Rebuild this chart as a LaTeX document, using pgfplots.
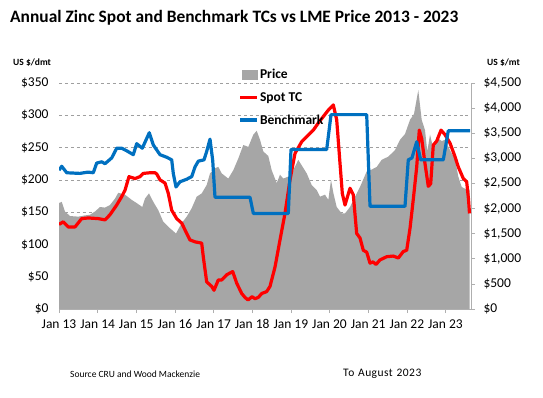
\documentclass[border=0pt]{standalone}
\usepackage{pgfplots}
\pgfplotsset{compat=1.18}
\usepackage{pgfplotstable}
\usepackage{fontspec}
\setmainfont{Carlito}
\definecolor{priceg}{RGB}{166,166,166}
\definecolor{tcred}{RGB}{255,0,0}
\definecolor{bmblue}{RGB}{0,112,192}
\definecolor{axg}{RGB}{175,175,175}

% LME zinc price, US$/t
\pgfplotstableread{
x y
2013.000 2109
2013.070 2134
2013.155 1941
2013.285 1851
2013.500 1839
2013.673 1864
2013.802 1877
2013.931 1941
2014.061 2031
2014.190 2019
2014.319 2070
2014.449 2199
2014.534 2314
2014.708 2276
2014.881 2173
2015.010 2109
2015.155 2031
2015.225 2199
2015.328 2301
2015.440 2134
2015.569 1967
2015.699 1736
2015.872 1607
2016.027 1504
2016.175 1710
2016.304 1839
2016.433 2006
2016.563 2237
2016.692 2301
2016.821 2469
2016.907 2700
2017.036 2803
2017.122 2829
2017.210 2700
2017.380 2597
2017.510 2764
2017.639 2996
2017.768 3266
2017.898 3227
2018.027 3471
2018.115 3549
2018.201 3369
2018.286 3137
2018.415 3047
2018.503 2764
2018.633 2507
2018.718 2674
2018.803 2597
2018.933 2636
2019.062 2764
2019.191 2970
2019.409 2700
2019.538 2469
2019.668 2366
2019.753 2237
2019.882 2276
2019.968 2173
2020.038 2571
2020.097 2314
2020.185 2031
2020.314 1903
2020.400 1903
2020.529 2031
2020.788 2430
2020.961 2739
2021.091 2777
2021.220 2829
2021.349 2970
2021.520 3034
2021.693 3163
2021.823 3369
2021.952 3484
2022.082 3767
2022.185 3883
2022.296 4358
2022.384 3767
2022.470 3561
2022.529 3137
2022.599 3471
2022.684 3201
2022.772 3420
2022.902 3343
2022.987 3369
2023.116 3163
2023.246 2983
2023.331 2636
2023.419 2430
2023.548 2379
2023.621 2379
}\pricetab

% Spot TC, US$/dmt
\pgfplotstableread{
x y
2013.000 131
2013.111 135
2013.241 127
2013.414 127
2013.587 140
2013.758 141
2014.017 140
2014.190 138
2014.319 146
2014.493 161
2014.622 174
2014.708 184
2014.811 205
2014.966 202
2015.096 205
2015.181 210
2015.354 211
2015.484 211
2015.530 209
2015.613 200
2015.743 195
2015.828 179
2015.916 153
2016.045 140
2016.175 133
2016.304 117
2016.389 107
2016.519 104
2016.692 102
2016.733 81
2016.821 42
2016.951 35
2017.010 29
2017.122 45
2017.210 45
2017.339 53
2017.494 58
2017.598 40
2017.727 24
2017.812 18
2017.890 14
2017.994 19
2018.071 16
2018.157 18
2018.245 24
2018.374 27
2018.459 35
2018.589 65
2018.718 107
2018.847 148
2018.977 200
2019.106 241
2019.279 259
2019.409 267
2019.580 277
2019.709 288
2019.838 298
2019.968 308
2020.097 316
2020.185 293
2020.270 226
2020.330 179
2020.400 161
2020.529 187
2020.614 177
2020.702 117
2020.788 110
2020.873 91
2020.961 88
2021.047 71
2021.124 73
2021.202 69
2021.305 76
2021.479 81
2021.649 82
2021.779 79
2021.908 89
2021.996 91
2022.082 125
2022.167 170
2022.255 220
2022.322 277
2022.384 264
2022.470 225
2022.555 190
2022.617 194
2022.684 254
2022.772 260
2022.884 277
2022.987 270
2023.116 257
2023.246 236
2023.331 220
2023.461 202
2023.548 197
2023.595 170
2023.621 148
}\spottab

% Benchmark TC, US$/dmt
\pgfplotstableread{
x y
2013.000 215
2013.070 221
2013.200 211
2013.540 210
2013.750 212
2013.887 211
2013.975 226
2014.105 228
2014.190 225
2014.364 234
2014.493 249
2014.622 249
2014.752 245
2014.922 239
2015.010 256
2015.155 249
2015.336 273
2015.440 254
2015.613 239
2015.787 235
2015.916 231
2015.957 210
2016.027 189
2016.131 197
2016.304 201
2016.433 205
2016.519 220
2016.604 229
2016.752 231
2016.821 244
2016.907 263
2016.977 230
2017.036 173
2017.942 173
2018.028 148
2018.933 148
2019.003 247
2019.926 247
2020.038 301
2020.961 301
2021.047 159
2021.952 159
2022.037 231
2022.133 234
2022.255 259
2022.358 231
2022.943 231
2023.072 276
2023.634 276
}\benchtab

\pgfplotsset{
  base/.style={
    at={(59bp,88bp)}, anchor=south west, scale only axis,
    width=412bp, height=226bp,
    xmin=2013, xmax=2023.66,
    /pgf/number format/assume math mode=true,
    tick label style={font=\fontsize{13.5bp}{15bp}\selectfont},
  }
}

\begin{document}
\begin{tikzpicture}[x=1bp,y=1bp]
\path[use as bounding box] (0,0) rectangle (543,397);

% left scale: grid + labels
\begin{axis}[base,
  ymin=0, ymax=350, ytick={0,50,...,350},
  axis x line=none, axis y line*=left,
  y axis line style={draw=none}, ytick style={draw=none},
  ymajorgrids, major grid style={dashed, draw=gray!75, line width=0.6bp},
  yticklabel={\$\pgfmathprintnumber{\tick}},
  yticklabel style={xshift=-7bp},
]
\end{axis}

% right scale: price area
\begin{axis}[base,
  ymin=0, ymax=4500, ytick={0,500,...,4500},
  axis x line=none, axis y line*=right,
  y axis line style={draw=axg, line width=0.8bp},
  ytick style={draw=axg, line width=0.6bp},
  tick align=outside, major tick length=4bp,
  yticklabel={\$\pgfmathprintnumber[fixed, 1000 sep={,}]{\tick}},
  yticklabel style={xshift=5bp},
]
\addplot[fill=priceg, draw=none] table[x=x,y=y] {\pricetab} \closedcycle;
\end{axis}

% left scale: TC lines, x axis, legend
\begin{axis}[base,
  ymin=0, ymax=350,
  axis y line=none, axis x line*=bottom,
  x axis line style={draw=axg, line width=0.8bp},
  xtick style={draw=axg, line width=0.6bp},
  tick align=outside, major tick length=4bp,
  xtick={2013,2014,...,2023},
  xticklabels={Jan 13,Jan 14,Jan 15,Jan 16,Jan 17,Jan 18,Jan 19,Jan 20,Jan 21,Jan 22,Jan 23},
  xticklabel style={yshift=-3bp},
  legend style={at={(0.436,1.066)}, anchor=north west, draw=none, fill=none,
    font=\bfseries\fontsize{13.5bp}{15bp}\selectfont, row sep=10bp,
    inner sep=0pt, nodes={inner sep=1bp}},
  legend cell align=left,
]
\addlegendimage{legend image code/.code={\fill[priceg] (0.05cm,-0.17cm) rectangle (0.6cm,0.17cm);}}
\addlegendentry{Price}
\addplot[tcred, line width=3.2bp, line join=round] table[x=x,y=y] {\spottab};
\addlegendentry{Spot TC}
\addplot[bmblue, line width=3.2bp, line join=round] table[x=x,y=y] {\benchtab};
\addlegendentry{Benchmark}
\end{axis}

\node[anchor=base west, inner sep=0, font=\bfseries\fontsize{17.4bp}{20bp}\selectfont] at (10,375) {Annual Zinc Spot and Benchmark TCs vs LME Price 2013 - 2023};
\node[anchor=base west, inner sep=0, font=\bfseries\fontsize{9.5bp}{11bp}\selectfont] at (13,332) {US \$/dmt};
\node[anchor=base west, inner sep=0, font=\bfseries\fontsize{9.5bp}{11bp}\selectfont] at (487,332) {US \$/mt};
\node[anchor=base west, inner sep=0, font=\fontsize{9.5bp}{11bp}\selectfont] at (70,20) {Source CRU and Wood Mackenzie};
\node[anchor=base west, inner sep=0, font=\fontsize{11.5bp}{13bp}\selectfont, text width=80bp] at (343,21) {\addfontfeatures{LetterSpace=4}To August 2023};
\end{tikzpicture}
\end{document}
